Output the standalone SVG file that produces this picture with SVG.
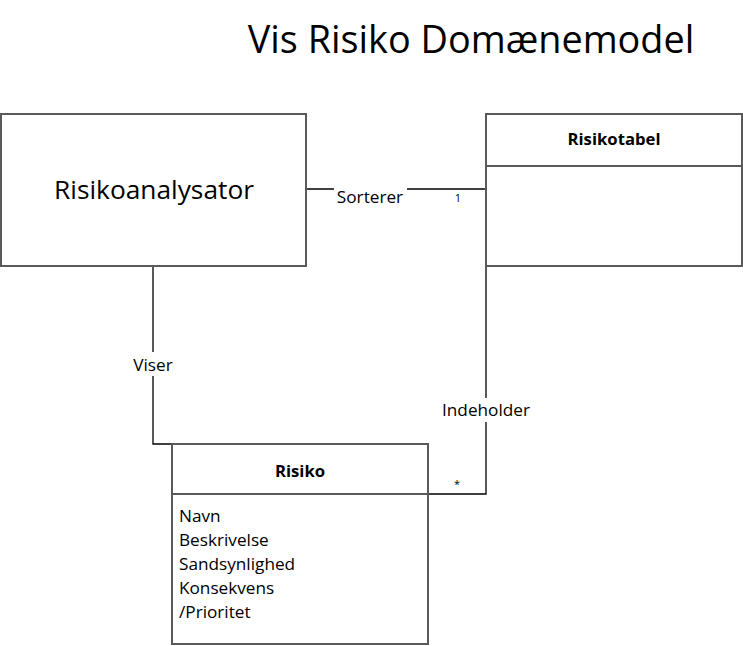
<svg xmlns="http://www.w3.org/2000/svg" width="743" height="646" viewBox="0 0 743 646">
<style>
.box{fill:#fff;stroke:#5a5a5a;stroke-width:2}
.div{stroke:#5a5a5a;stroke-width:2}
.con{fill:none;stroke:#000;stroke-width:1.3}
text{font-family:"Open Sans","Liberation Sans",sans-serif;fill:#000}
.lbl{font-size:17.2px;text-anchor:middle}
.bold{font-weight:bold;font-size:16.7px;text-anchor:middle}
.attr{font-size:17.2px}
.mult{font-size:11px;text-anchor:middle}
</style>
<rect width="743" height="646" fill="#fff"/>
<text x="471" y="53" font-size="37.8" text-anchor="middle">Vis Risiko Domænemodel</text>
<g id="connectors">
<line class="con" x1="306" y1="189" x2="486" y2="189"/>
<rect x="334" y="182" width="73" height="20" fill="#fff"/>
<text class="lbl" x="370" y="203">Sorterer</text>
<text class="mult" x="458" y="202">1</text>
<polyline class="con" points="153,266 153,444 172,444"/>
<rect x="128" y="352" width="50" height="24" fill="#fff"/>
<text class="lbl" x="153" y="371">Viser</text>
<polyline class="con" points="486,266 486,494 428,494"/>
<rect x="438" y="398" width="96" height="24" fill="#fff"/>
<text class="lbl" x="486" y="416">Indeholder</text>
<text class="mult" x="457" y="488">*</text>
</g>
<g id="risikoanalysator">
<rect class="box" x="1" y="114" width="305" height="152"/>
<text x="154" y="199" font-size="26.3" text-anchor="middle">Risikoanalysator</text>
</g>
<g id="risikotabel">
<rect class="box" x="486" y="114" width="256" height="152"/>
<line class="div" x1="486" y1="166" x2="742" y2="166"/>
<text class="bold" x="614" y="145">Risikotabel</text>
</g>
<g id="risiko">
<rect class="box" x="172" y="444" width="256" height="200"/>
<line class="div" x1="172" y1="494" x2="428" y2="494"/>
<text class="bold" x="300" y="477">Risiko</text>
<text class="attr" x="179" y="522">Navn</text>
<text class="attr" x="179" y="546">Beskrivelse</text>
<text class="attr" x="179" y="570">Sandsynlighed</text>
<text class="attr" x="179" y="594">Konsekvens</text>
<text class="attr" x="179" y="618">/Prioritet</text>
</g>
</svg>
